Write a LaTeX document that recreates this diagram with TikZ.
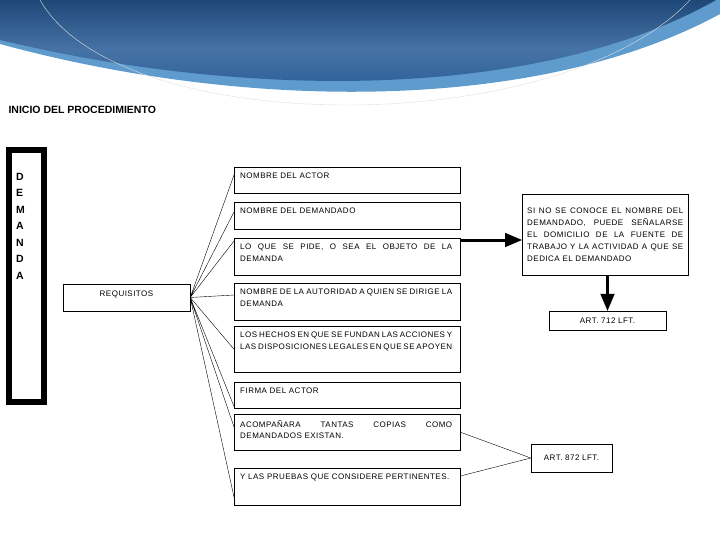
\documentclass[tikz,border=0pt]{standalone}
\usepackage{fontspec}
\setmainfont{Liberation Sans}
\newfontfamily\wide[LetterSpace=6]{Liberation Sans}
\usetikzlibrary{arrows,positioning}
\definecolor{bandblue}{RGB}{38,90,150}
\definecolor{bandlight}{RGB}{95,155,205}
\newcommand{\nohyph}{\hyphenpenalty 10000\exhyphenpenalty 10000\relax}
\newcommand{\reqbox}[4]{%
  \node[box, minimum height=#3] (#1) at (234,#2) {};
  \node[req] (#1t) at (#1.north west) {#4};}
\begin{document}
\begin{tikzpicture}[x=1pt,y=-1pt,>=latex]
        \tikzset{box/.style={draw, rectangle, anchor=north west, minimum width=226pt, inner sep=0pt},
        req/.style={anchor=north west, align=justify, text width=212pt, inner sep=6pt,
            font=\wide\fontsize{8}{11.5}\selectfont\nohyph},
        art/.style={draw, rectangle, align=center, font=\wide\fontsize{8}{10}\selectfont},
        fat/.style={->, line width=3pt, >=triangle 45},
        }
        \useasboundingbox (0,0) rectangle (720,540);
%% banner
        \fill[bandlight] (0,0) -- (0,44) .. controls (250,112) and (540,112) .. (720,14) -- (720,0) -- cycle;
        \shade[top color=bandblue!80!black, bottom color=bandblue, middle color=bandblue!85!white]
            (0,0) -- (0,40) .. controls (250,100) and (540,100) .. (716,0) -- cycle;
        \draw[gray!25] (40,0) .. controls (120,140) and (560,140) .. (690,0);
        \node[anchor=west, font=\bfseries\fontsize{10.5}{12}\selectfont] (title) at (5,110) {INICIO DEL PROCEDIMIENTO};

        \draw[line width=6pt] (9,150) rectangle (44,402);
        \node[align=left, font=\bfseries\fontsize{10.5}{16.5}\selectfont, anchor=north west, inner sep=0pt] (dem) at (16,173) {D\\E\\M\\A\\N\\D\\A};
        \node[art, minimum width=127pt, minimum height=27pt] (req) at (126.5,297.5) {\raisebox{7pt}{REQUISITOS}};

        \reqbox{r1}{167}{26pt}{NOMBRE DEL ACTOR}
        \reqbox{r2}{202}{27pt}{NOMBRE DEL DEMANDADO}
        \reqbox{r3}{238}{37pt}{LO QUE SE PIDE, O SEA EL OBJETO DE LA DEMANDA}
        \reqbox{r4}{283}{37pt}{NOMBRE DE LA AUTORIDAD A QUIEN SE DIRIGE LA DEMANDA}
        \reqbox{r5}{326}{46pt}{LOS HECHOS EN QUE SE FUNDAN LAS ACCIONES Y LAS DISPOSICIONES LEGALES EN QUE SE APOYEN}
        \reqbox{r6}{382}{26pt}{FIRMA DEL ACTOR}
        \reqbox{r7}{414}{36pt}{ACOMPAÑARA TANTAS COPIAS COMO DEMANDADOS EXISTAN.}
        \reqbox{r8}{468}{37pt}{Y LAS PRUEBAS QUE CONSIDERE PERTINENTES.}

        \node[draw, rectangle, anchor=north west, align=justify, text width=156pt, inner sep=5pt,
            minimum height=81pt, font=\wide\fontsize{8}{12}\selectfont\nohyph] (note) at (522,194)
            {SI NO SE CONOCE EL NOMBRE DEL DEMANDADO, PUEDE SEÑALARSE EL DOMICILIO DE LA FUENTE DE TRABAJO Y LA ACTIVIDAD A QUE SE DEDICA EL DEMANDADO};
        \node[art, minimum width=117pt, minimum height=19pt] (a712) at (607.5,320.5) {ART. 712 LFT.};
        \node[art, minimum width=81pt, minimum height=28pt] (a872) at (571.5,458) {ART. 872 LFT.};

%% paths
        \draw (req.east) -- ([yshift=-8pt]r1.north west)
              (req.east) -- ([yshift=-10pt]r2.north west)
              (req.east) -- ([yshift=-3pt]r3.north west)
              (req.east) -- ([yshift=-12pt]r4.north west)
              (req.east) -- (r5.west)
              (req.east) -- ([yshift=2pt]r6.south west)
              (req.east) -- ([yshift=-13pt]r7.north west)
              (req.east) -- ([yshift=-29pt]r8.north west);
        \draw (r7.east) -- (a872.west) (r8.north east) ++(0,8) coordinate (r8e) (r8e) -- (a872.west);
        \draw[fat] ([yshift=-2pt]r3.north east) -- ([yshift=-46pt]note.north west);
        \draw[fat] (note.south -| a712) -- (a712.north);
\end{tikzpicture}
\end{document}
